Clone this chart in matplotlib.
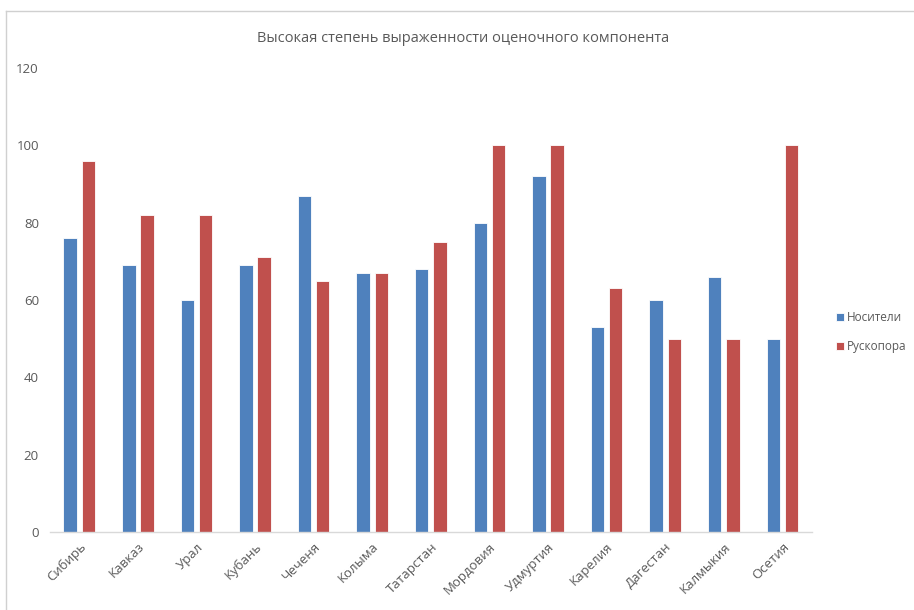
import numpy as np
import matplotlib.pyplot as plt
from matplotlib.lines import Line2D

regions = ['Сибирь', 'Кавказ', 'Урал', 'Кубань', 'Чеченя', 'Колыма', 'Татарстан',
           'Мордовия', 'Удмуртия', 'Карелия', 'Дагестан', 'Калмыкия', 'Осетия']
nositeli = [76, 69, 60, 69, 87, 67, 68, 80, 92, 53, 60, 66, 50]
ruskopora = [96, 82, 82, 71, 65, 67, 75, 100, 100, 63, 50, 50, 100]

plt.rcParams['font.family'] = ['Open Sans', 'DejaVu Sans']
grey = '#595959'

fig = plt.figure(figsize=(9.14, 6.10), dpi=100)
ax = fig.add_axes([0.0547, 0.1279, 0.8333, 0.7606])

x = np.arange(len(regions))
w = 0.23
ax.bar(x - 0.155, nositeli, w, color='#4F81BD', edgecolor='white', linewidth=0.6, label='Носители')
ax.bar(x + 0.155, ruskopora, w, color='#C0504D', edgecolor='white', linewidth=0.6, label='Рускопора')

ax.set_xlim(-0.5, len(regions) - 0.5)
ax.set_ylim(0, 120)
ax.set_yticks(range(0, 121, 20))
ax.set_xticks(x)
ax.set_xticklabels(regions, rotation=45, ha='right', rotation_mode='anchor')
ax.tick_params(axis='both', length=0, colors=grey, labelsize=9.5)
ax.tick_params(axis='y', pad=8)
ax.tick_params(axis='x', pad=6)
for s in ['top', 'right', 'left']:
    ax.spines[s].set_visible(False)
ax.spines['bottom'].set_color('#d9d9d9')
ax.spines['bottom'].set_linewidth(1.0)

fig.text(0.507, 0.937, 'Высокая степень выраженности оценочного компонента',
         ha='center', va='center', fontsize=10.5, color=grey)

leg = fig.legend(loc='center left', bbox_to_anchor=(0.903, 0.455), frameon=False,
                 handlelength=0.7, handleheight=0.7, handletextpad=0.25,
                 labelspacing=1.35, fontsize=8.5)
for t in leg.get_texts():
    t.set_color(grey)

# frame of the original screenshot
fig.add_artist(Line2D([0.0065, 0.0065], [0, 0.982], transform=fig.transFigure, color='#d0d0d0', lw=1))
fig.add_artist(Line2D([0.0065, 1], [0.982, 0.982], transform=fig.transFigure, color='#d0d0d0', lw=1))

fig.savefig('out.png', dpi=100)
